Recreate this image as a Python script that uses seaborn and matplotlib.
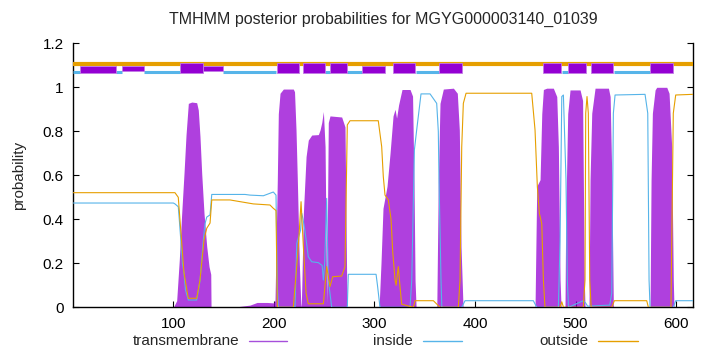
import numpy as np
import seaborn as sns
import matplotlib
matplotlib.use("Agg")
import matplotlib.pyplot as plt
from matplotlib.lines import Line2D

# posterior probability traces (residue, probability)
tm_x = [100.0, 103.3, 105.9, 108.3, 110.6, 112.6, 114.9, 118.3, 123.2, 124.8, 126.5, 128.2, 130.5, 133.2, 135.5, 137.2, 137.5,
        159.3, 176.2, 183.2, 193.2, 199.4,
        201.1, 203.4, 204.4, 206.1, 209.4, 219.3, 220.5, 222.0, 223.3, 225.3, 226.7, 227.2,
        227.7, 229.3, 232.0, 234.2, 237.6, 244.2, 245.9, 247.6, 249.2, 250.9, 252.5, 254.1, 255.8, 267.4, 270.7, 272.4, 273.0,
        304.6, 306.5, 308.5, 312.5, 315.5, 318.5, 320.5, 322.0, 324.0, 327.4, 335.4, 337.9, 339.4, 340.4, 341.4,
        362.0, 363.5, 365.2, 368.5, 378.5, 382.4, 384.4, 386.1, 388.1,
        459.7, 461.4, 464.7, 466.4, 468.0, 471.3, 477.9, 481.3, 482.9, 484.6, 485.6,
        489.5, 490.2, 492.2, 494.5, 504.5, 507.0, 508.7, 509.4,
        513.4, 514.4, 516.1, 519.4, 532.7, 534.4, 536.1, 537.6,
        574.1, 575.1, 576.4, 579.1, 580.7, 590.7, 593.0, 595.6, 597.2, 597.9]
tm_p = [0.0, 0.03, 0.215, 0.427, 0.609, 0.783, 0.927, 0.933, 0.93, 0.897, 0.776, 0.609, 0.427, 0.276, 0.185, 0.15, 0.0,
        0.0, 0.01, 0.022, 0.022, 0.02,
        0.03, 0.58, 0.88, 0.973, 0.992, 0.992, 0.98, 0.806, 0.58, 0.2, 0.02, 0.0,
        0.09, 0.427, 0.685, 0.76, 0.783, 0.785, 0.806, 0.84, 0.89, 0.73, 0.02, 0.84, 0.87, 0.865, 0.82, 0.12, 0.0,
        0.0, 0.2, 0.45, 0.55, 0.7, 0.87, 0.9, 0.86, 0.92, 0.99, 0.99, 0.96, 0.55, 0.12, 0.0,
        0.0, 0.58, 0.927, 0.992, 0.996, 0.973, 0.806, 0.276, 0.0,
        0.0, 0.55, 0.58, 0.88, 0.99, 0.996, 0.996, 0.958, 0.73, 0.124, 0.0,
        0.0, 0.4, 0.88, 0.988, 0.988, 0.94, 0.124, 0.0,
        0.0, 0.579, 0.882, 0.996, 0.996, 0.958, 0.579, 0.0,
        0.0, 0.579, 0.882, 0.988, 1.0, 1.0, 0.973, 0.73, 0.124, 0.0]

inside_x = [0.5, 100.0, 101.6, 104.9, 105.9, 107.5, 109.0, 110.6, 112.0, 114.9, 123.2, 126.5, 129.8, 131.5, 133.2, 136.5, 138.2,
            171.3, 176.2, 189.5, 199.4, 202.1, 203.4, 204.4, 221.0, 222.7, 226.5, 227.7, 229.0, 231.0, 234.2, 237.6, 244.2,
            248.0, 249.2, 250.5, 252.5, 253.3, 254.1, 257.5, 273.0, 274.0, 301.6, 303.0, 305.5, 335.4, 337.1, 339.7, 342.0,
            346.3, 355.3, 361.9, 363.5, 364.2, 366.2, 367.0, 386.8, 390.1, 458.0, 461.4, 482.9, 484.6, 486.3, 487.9, 490.5,
            491.8, 493.0, 507.7, 510.0, 512.0, 534.0, 536.0, 537.6, 539.3, 569.1, 571.8, 573.1, 574.1, 597.2, 599.6, 616.5]
inside_p = [0.474, 0.474, 0.47, 0.457, 0.40, 0.3, 0.2, 0.156, 0.08, 0.033, 0.033, 0.12, 0.306, 0.38, 0.41, 0.42, 0.513,
            0.513, 0.51, 0.507, 0.524, 0.51, 0.1, 0.0, 0.0, 0.29, 0.35, 0.427, 0.4, 0.344, 0.23, 0.207, 0.203,
            0.19, 0.124, 0.2, 0.495, 0.3, 0.124, 0.0, 0.0, 0.15, 0.15, 0.1, 0.0, 0.0, 0.124, 0.715, 0.806,
            0.97, 0.97, 0.927, 0.8, 0.579, 0.124, 0.0, 0.0, 0.03, 0.03, 0.0, 0.0, 0.3, 0.958, 0.965, 0.579,
            0.124, 0.0, 0.03, 0.02, 0.005, 0.01, 0.064, 0.882, 0.965, 0.968, 0.882, 0.124, 0.0, 0.0, 0.03, 0.03]

outside_x = [0.5, 101.6, 104.9, 106.6, 110.6, 114.9, 123.2, 126.5, 130.5, 133.2, 136.5, 138.2, 156.3, 179.5, 196.1, 199.4,
             202.1, 203.4, 219.3, 224.3, 227.0, 229.3, 232.0, 234.2, 249.2, 252.5, 255.8, 258.5, 267.4, 270.7, 273.0,
             275.7, 303.8, 307.2, 308.8, 310.5, 313.8, 316.5, 318.2, 320.5, 321.5, 323.7, 325.4, 327.1, 338.7, 340.4,
             358.6, 365.2, 383.4, 385.1, 386.8, 388.4, 391.1, 456.4, 459.7, 462.0, 464.0, 466.4, 468.0, 469.6, 484.6,
             486.3, 488.0, 507.7, 509.4, 510.1, 511.4, 512.7, 514.1, 515.5, 536.0, 538.6, 570.8, 572.4, 594.9, 597.2,
             599.6, 616.5]
outside_p = [0.521, 0.521, 0.50, 0.397, 0.156, 0.041, 0.041, 0.124, 0.306, 0.359, 0.383, 0.488, 0.488, 0.47, 0.465, 0.45,
             0.44, 0.0, 0.0, 0.276, 0.48, 0.276, 0.064, 0.016, 0.016, 0.185, 0.094, 0.139, 0.142, 0.185, 0.829,
             0.848, 0.848, 0.73, 0.594, 0.51, 0.488, 0.4, 0.25, 0.124, 0.1, 0.185, 0.094, 0.014, 0.0, 0.03,
             0.03, 0.0, 0.0, 0.124, 0.73, 0.927, 0.973, 0.973, 0.806, 0.548, 0.427, 0.38, 0.124, 0.0, 0.0,
             0.025, 0.0, 0.0, 0.124, 0.882, 0.958, 0.882, 0.124, 0.0, 0.0, 0.03, 0.03, 0.0, 0.0, 0.882,
             0.965, 0.968]

# predicted topology along the top of the plot
tm_segments = [(7, 43), (49, 71), (107, 129), (129, 149), (203, 225), (229, 251), (256, 273), (288, 310),
               (318, 340), (364, 387), (468, 486), (492, 510), (515, 537), (574, 597)]
tm_kind = ['low', 'mid', 'full', 'mid', 'full', 'full', 'full', 'low',
           'full', 'full', 'full', 'full', 'full', 'full']
inside_segments = [(0.5, 7), (43, 49), (71, 107), (149, 202), (251, 256), (273, 288), (341, 364),
                   (487, 492), (538, 574)]
seq_len = 616.5

purple = '#9400d3'
blue = '#56b4e9'
orange = '#e69f00'

sns.set_style('white')
plt.rcParams['font.family'] = ['Liberation Sans', 'DejaVu Sans']

fig = plt.figure(figsize=(7.2, 3.52), dpi=100)
ax = fig.add_axes([73.3 / 720, 1 - 307.3 / 352, (692.7 - 73.3) / 720, (307.3 - 43.3) / 352])

ax.fill_between(tm_x, 0, tm_p, color=purple, alpha=0.75, lw=0, zorder=2)
sns.lineplot(x=inside_x, y=inside_p, sort=False, color=blue, lw=0.8, ax=ax, zorder=3)
sns.lineplot(x=outside_x, y=outside_p, sort=False, color=orange, lw=0.8, ax=ax, zorder=3)

# topology bars
ax.hlines(1.107, 0.5, seq_len, color=orange, lw=3.0, zorder=4)
for s, e in inside_segments:
    ax.hlines(1.069, s, e, color=blue, lw=2.2, zorder=4)
levels = {'full': (1.064, 1.112), 'low': (1.064, 1.097), 'mid': (1.074, 1.097)}
for (s, e), k in zip(tm_segments, tm_kind):
    lo, hi = levels[k]
    ax.add_patch(plt.Rectangle((s, lo), e - s, hi - lo, facecolor=purple,
                               edgecolor='#c27ae6', lw=0.6, zorder=5))

ax.set_xlim(0.5, seq_len)
ax.set_ylim(0, 1.2)
ax.set_xticks([100, 200, 300, 400, 500, 600])
ax.set_yticks([0, 0.2, 0.4, 0.6, 0.8, 1.0, 1.2])
ax.set_yticklabels(['0', '0.2', '0.4', '0.6', '0.8', '1', '1.2'])
ax.tick_params(direction='in', length=4, width=0.8, labelsize=11, pad=7,
               right=True, left=True, bottom=True, top=False, colors='black')
for side in ['left', 'right', 'bottom']:
    ax.spines[side].set_color('black')
    ax.spines[side].set_linewidth(1.0)
ax.spines['top'].set_visible(False)

ax.set_title('TMHMM posterior probabilities for MGYG000003140_01039', fontsize=11.5, pad=14)
ax.set_ylabel('probability', fontsize=11, labelpad=12)

# legend below the axis, gnuplot style (text then sample line)
legend_items = [('transmembrane', 239, 249, 287, '#a64fdb'),
                ('inside', 413, 423, 462, blue),
                ('outside', 588, 598, 638, orange)]
ly = 1 - 341 / 352
for label, tx, x0, x1, c in legend_items:
    fig.text(tx / 720, ly, label, ha='right', va='center', fontsize=11)
    fig.add_artist(Line2D([x0 / 720, x1 / 720], [ly, ly], color=c, lw=1.0, transform=fig.transFigure))

fig.savefig('out.png', dpi=100)
